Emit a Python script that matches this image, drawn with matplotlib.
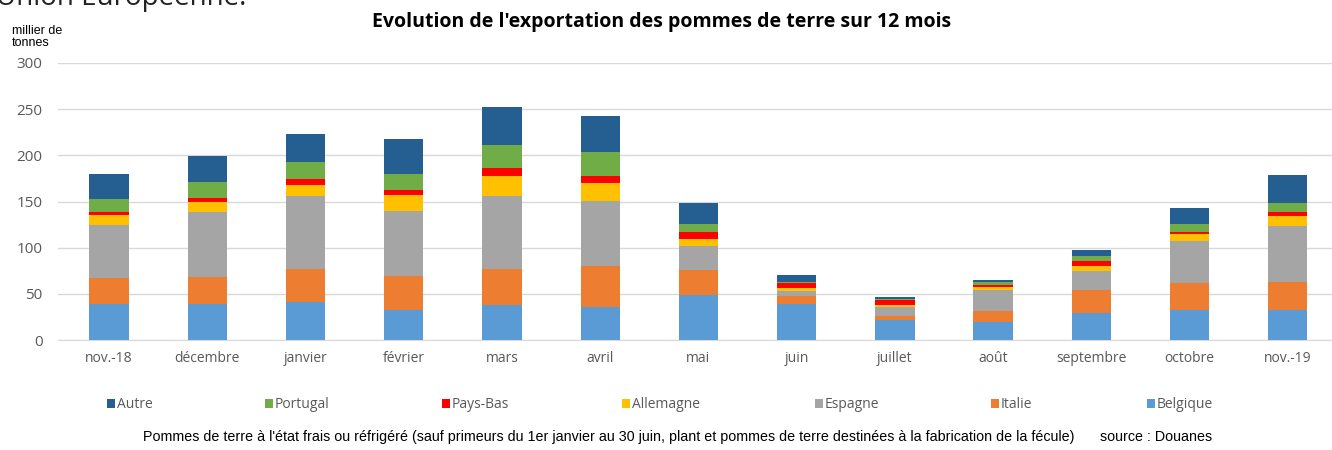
import numpy as np
import matplotlib
matplotlib.use("Agg")
from matplotlib import pyplot as plt

months = ['nov.-18', 'décembre', 'janvier', 'février', 'mars', 'avril', 'mai',
          'juin', 'juillet', 'août', 'septembre', 'octobre', 'nov.-19']

# milliers de tonnes
belgique  = [39, 39, 41, 32, 38, 36, 49, 39, 22, 20, 29, 32, 33]
italie    = [28, 29, 36, 37, 39, 44, 27, 9, 4.5, 11.5, 25, 30, 30]
espagne   = [58, 71, 79, 71, 79, 71, 26, 5.5, 9.5, 23, 21, 45, 61]
allemagne = [10, 10, 12, 17, 22, 19, 7.5, 3, 2, 2.5, 5, 7.5, 10]
pays_bas  = [4, 5, 6, 5, 8.5, 7.5, 7, 5, 5.5, 3, 6, 3, 5]
portugal  = [14, 17, 19, 18, 25, 26, 9, 1.5, 0.5, 2.5, 4.5, 8, 9.5]
autre     = [27, 28, 30, 38, 41, 39, 23, 7, 2.5, 3, 7, 18, 30]

series = [('Belgique', belgique, '#5B9BD5'),
          ('Italie', italie, '#ED7D31'),
          ('Espagne', espagne, '#A5A5A5'),
          ('Allemagne', allemagne, '#FFC000'),
          ('Pays-Bas', pays_bas, '#FF0000'),
          ('Portugal', portugal, '#70AD47'),
          ('Autre', autre, '#255E91')]

fig = plt.figure(figsize=(13.32, 4.5), dpi=100)
ax = fig.add_axes([58/1332, 1-340/450, (1332-58)/1332, (340-63)/450])

x = np.arange(len(months))
bottom = np.zeros(len(months))
handles = {}
for name, vals, col in series:
    vals = np.array(vals, dtype=float)
    b = ax.bar(x, vals, 0.4, bottom=bottom, color=col, label=name, zorder=3)
    handles[name] = b
    bottom += vals

ax.set_ylim(0, 300)
ax.set_xlim(-0.52, 12.45)
ax.set_yticks(range(0, 301, 50))
ax.set_xticks(x)
ax.set_xticklabels(months)
ax.grid(axis='y', color='#D9D9D9', lw=1, zorder=0)
for s in ax.spines.values():
    s.set_visible(False)
ax.spines['bottom'].set_visible(True)
ax.spines['bottom'].set_color('#D9D9D9')
ax.tick_params(length=0, labelsize=10, labelcolor='#595959', pad=8)
ax.tick_params(axis='y', labelsize=11, pad=11)
for lab in ax.get_xticklabels() + ax.get_yticklabels():
    lab.set_family('Open Sans')

# légende : une entrée par pays, à la manière d'Excel
order = ['Autre', 'Portugal', 'Pays-Bas', 'Allemagne', 'Espagne', 'Italie', 'Belgique']
leg_x = [107, 265, 442, 622, 815, 991, 1147]
for name, px in zip(order, leg_x):
    lg = fig.legend([handles[name]], [name], loc='center left',
                    bbox_to_anchor=(px/1332, 1-405/450), frameon=False,
                    borderpad=0, borderaxespad=0,
                    handlelength=0.55, handleheight=0.55, handletextpad=0.15,
                    prop={'family': 'Open Sans', 'size': 10}, labelcolor='#595959')

fig.text(0.497, 1-22/450, "Evolution de l'exportation des pommes de terre sur 12 mois",
         ha='center', va='center', fontsize=14, fontweight='bold', family='Open Sans')
fig.text(12/1332, 1-37/450, 'millier de\ntonnes', ha='left', va='center',
         fontsize=9, family='Liberation Sans', linespacing=1.05)
fig.text(-4/1332, 1-5/450, 'Union Européenne.', ha='left', va='baseline',
         fontsize=20, family='Open Sans', color='#222222')
fig.text(143/1332, 1-437/450,
         "Pommes de terre à l'état frais ou réfrigéré (sauf primeurs du 1er janvier au 30 juin, "
         "plant et pommes de terre destinées à la fabrication de la fécule)",
         ha='left', va='center', fontsize=10.3, family='Liberation Sans')
fig.text(1100/1332, 1-437/450, 'source : Douanes', ha='left', va='center',
         fontsize=10.3, family='Liberation Sans')

fig.savefig('out.png', dpi=100)
